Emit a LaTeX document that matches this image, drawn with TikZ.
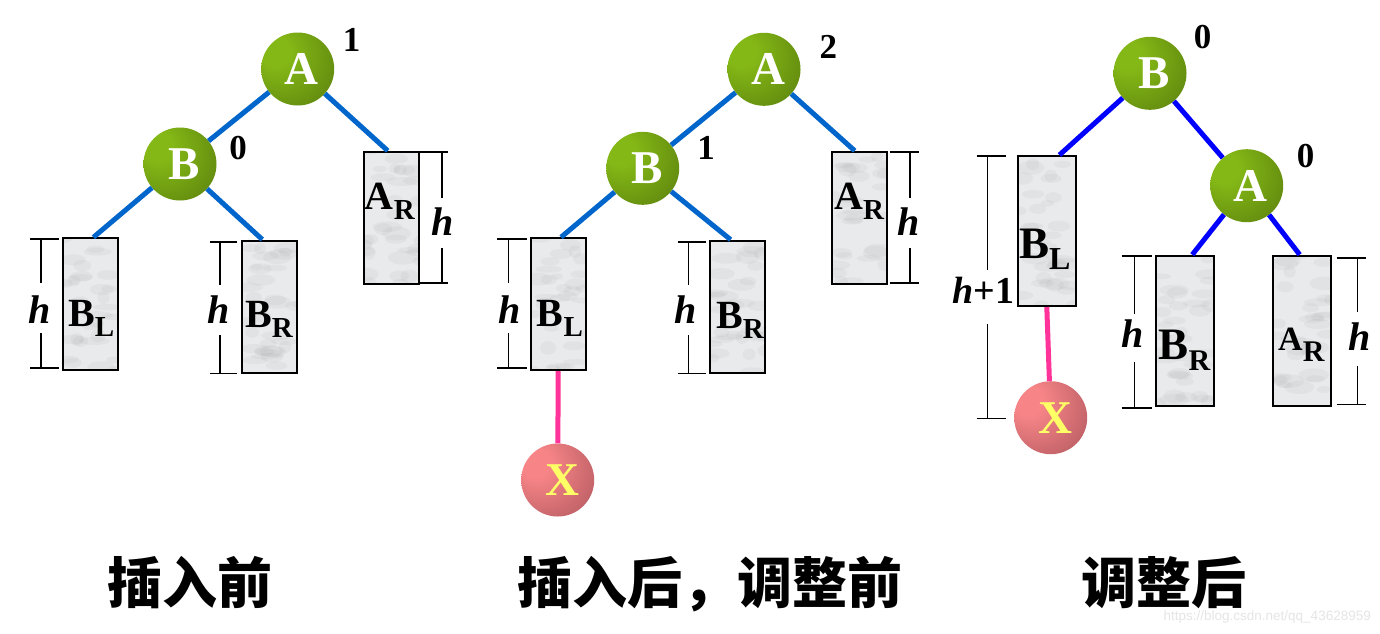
\documentclass[tikz,border=0pt]{standalone}
\usepackage{fontspec}
\setmainfont{Liberation Serif}
\newfontfamily\cjk{Noto Sans CJK SC}
\newfontfamily\wmfont{Liberation Sans}
\usetikzlibrary{calc}
\definecolor{gl}{HTML}{84B816}
\definecolor{gd}{HTML}{3A5406}
\definecolor{pl}{HTML}{F78587}
\definecolor{pd}{HTML}{7A3540}
\definecolor{eblue}{HTML}{0066CC}
\definecolor{pblue}{HTML}{0000FF}
\definecolor{epink}{HTML}{FF3399}
\definecolor{xyel}{HTML}{FFFF66}
\definecolor{boxg}{HTML}{E9EAEB}
\pgfdeclareradialshading{greenball}{\pgfpoint{-18bp}{14bp}}{color(0bp)=(gl); color(10bp)=(gl); color(72bp)=(gd)}
\pgfdeclareradialshading{pinkball}{\pgfpoint{-18bp}{14bp}}{color(0bp)=(pl); color(10bp)=(pl); color(72bp)=(pd)}
\newcommand\subl[4]{#1\raisebox{-#4pt}{\fontsize{#3}{#3}\selectfont #2}}
\newcommand\dimbar[7]{%
  \draw[barline] (#1,#3) -- (#2,#3);
  \draw[barline] (#1,#4) -- (#2,#4);
  \draw[barline] (#5,#3) -- (#5,#6);
  \draw[barline] (#5,#7) -- (#5,#4);}
\tikzset{
  ball/.style={circle, minimum size=73pt, inner sep=0pt, shading=greenball, text=white,
    font=\fontsize{47}{47}\selectfont\bfseries},
  xball/.style={circle, minimum size=73pt, inner sep=0pt, shading=pinkball, text=xyel,
    font=\fontsize{47}{47}\selectfont\bfseries},
  texture/.style={path picture={
      \foreach \i in {1,...,34}{
        \pgfmathsetmacro\rx{rnd*58}\pgfmathsetmacro\ry{rnd*150}
        \pgfmathsetmacro\rw{6+rnd*10}\pgfmathsetmacro\rh{3+rnd*4}
        \fill[gray, opacity=0.07] (path picture bounding box.south west) ++(\rx,-\ry) ellipse ({\rw} and {\rh});
      }}},
  tbox/.style={draw=black, line width=2pt, fill=boxg, texture, inner sep=0pt,
    minimum width=55pt, minimum height=132pt},
  tboxb/.style={tbox, minimum width=58pt, minimum height=150pt},
  edgea/.style={line width=5pt, eblue},
  edgeb/.style={line width=5pt, pblue},
  edgex/.style={line width=5pt, epink},
  barline/.style={line width=1.6pt, black},
  bal/.style={font=\fontsize{35}{35}\selectfont\bfseries},
  hlab/.style={font=\fontsize{40}{40}\selectfont\bfseries\itshape, inner sep=0pt},
  blab/.style={anchor=base west, inner sep=0pt, font=\fontsize{40}{40}\selectfont\bfseries},
  blabb/.style={anchor=base west, inner sep=0pt, font=\fontsize{45}{45}\selectfont\bfseries},
  captext/.style={font=\cjk\bfseries\fontsize{55}{55}\selectfont, inner sep=0pt},
}
\begin{document}
\pgfmathsetseed{11}
\begin{tikzpicture}[x=1pt, y=-1pt]
\useasboundingbox[fill=white] (0,0) rectangle (1380,633);

% ---------- panel 1 ----------
\node[tbox] (BL1) at (90,304.3) {};
\node[tbox] (BR1) at (269.7,306.5) {};
\node[tbox] (AR1) at (391.2,217.8) {};
\node[ball] (A1) at (297.7,69) {\kern8pt A};
\node[ball] (B1) at (180,164) {\kern8pt B};
\draw[edgea] (A1) -- (B1);
\draw[edgea] (A1) -- ($(AR1.north west)!0.44!(AR1.north east)$);
\draw[edgea] (B1) -- ($(BL1.north west)!0.56!(BL1.north east)$);
\draw[edgea] (B1) -- ($(BR1.north west)!0.37!(BR1.north east)$);
\node[bal] (n1a) at (351.7,40) {1};
\node[bal] (n1b) at (238,148) {0};
\node[blab] (lbl1) at (68,326) {\subl{B}{L}{29}{10}};
\node[blab] (lbr1) at (245,327) {\subl{B}{R}{29}{10}};
\node[blab] (lar1) at (364.7,209.3) {\subl{A}{R}{29}{10}};
\dimbar{30}{59}{239}{367.7}{41}{283}{333}
\node[hlab] (h1a) at (39.3,310) {h};
\dimbar{210}{237.3}{241.7}{373.3}{220}{285}{335}
\node[hlab] (h1b) at (218.3,310) {h};
\dimbar{420}{448}{151.7}{282.7}{442}{198}{248}
\node[hlab] (h1c) at (442.7,221.7) {h};

% ---------- panel 2 ----------
\node[tbox] (BL2) at (558.2,304.2) {};
\node[tbox] (BR2) at (737.5,306.7) {};
\node[tbox] (AR2) at (859.3,217.8) {};
\node[ball] (A2) at (764,69.3) {\kern8pt A};
\node[ball] (B2) at (642.7,168.3) {\kern8pt B};
\node[xball] (X2) at (557.7,480) {\kern10pt X};
\draw[edgea] (A2) -- (B2);
\draw[edgea] (A2) -- ($(AR2.north west)!0.42!(AR2.north east)$);
\draw[edgea] (B2) -- ($(BL2.north west)!0.55!(BL2.north east)$);
\draw[edgea] (B2) -- ($(BR2.north west)!0.38!(BR2.north east)$);
\draw[edgex] (BL2.south) -- (X2);
\node[bal] (n2a) at (828.3,47.3) {2};
\node[bal] (n2b) at (706,148.3) {1};
\node[blab] (lbl2) at (536.7,326) {\subl{B}{L}{29}{10}};
\node[blab] (lbr2) at (716,328) {\subl{B}{R}{29}{10}};
\node[blab] (lar2) at (834,209.3) {\subl{A}{R}{29}{10}};
\dimbar{497.3}{526.5}{239}{367.7}{508.5}{283}{333}
\node[hlab] (h2a) at (509.3,310) {h};
\dimbar{677.5}{705.5}{241.7}{373.3}{688.3}{285}{335}
\node[hlab] (h2b) at (686,310) {h};
\dimbar{889.5}{918.5}{151.7}{282.7}{910}{198}{248}
\node[hlab] (h2c) at (908.3,221.7) {h};

% ---------- panel 3 ----------
\node[tboxb] (BL3) at (1046.8,231) {};
\node[tboxb] (BR3) at (1185,330.7) {};
\node[tboxb] (AR3) at (1301.5,330.7) {};
\node[ball] (B3) at (1150,73.3) {\kern8pt B};
\node[ball] (A3) at (1246.7,185.7) {\kern8pt A};
\node[xball] (X3) at (1050.7,417.7) {\kern10pt X};
\draw[edgeb] (B3) -- ($(BL3.north west)!0.71!(BL3.north east)$);
\draw[edgeb] (B3) -- (A3);
\draw[edgeb] (A3) -- ($(BR3.north west)!0.62!(BR3.north east)$);
\draw[edgeb] (A3) -- ($(AR3.north west)!0.47!(AR3.north east)$);
\draw[edgex] (BL3.south) -- (X3);
\node[bal] (n3a) at (1202.7,37.3) {0};
\node[bal] (n3b) at (1305.7,156) {0};
\node[blabb] (lbl3) at (1019,258) {\subl{B}{L}{32}{11}};
\node[blabb] (lbr3) at (1158.3,359.3) {\subl{B}{R}{30}{11}};
\node[blab, font=\fontsize{34}{34}\selectfont\bfseries] (lar3) at (1278,350) {\subl{A}{R}{30}{11}};
\dimbar{976.5}{1006}{156}{418.3}{987.5}{270}{324}
\node[font=\fontsize{38}{38}\selectfont\bfseries, inner sep=0pt] (h3a) at (983.3,290) {\textit{h}+1};
\dimbar{1121.7}{1151.5}{256}{407.7}{1134.5}{314}{362}
\node[hlab] (h3b) at (1132.7,333.3) {h};
\dimbar{1336.5}{1366}{257.7}{404.3}{1357.3}{311.7}{365.7}
\node[hlab] (h3c) at (1359.3,336.7) {h};

% ---------- captions ----------
\node[captext, anchor=base] (c1) at (190,603) {插入前};
\node[captext, anchor=base] (c2) at (710,603) {插入后，调整前};
\node[captext, anchor=base] (c3) at (1163.5,603) {调整后};
\node[font=\wmfont\fontsize{13.5}{13.5}\selectfont, text=gray!20, anchor=base east, inner sep=0pt] (wm) at (1371,620) {https://blog.csdn.net/qq\_43628959};
\end{tikzpicture}
\end{document}
